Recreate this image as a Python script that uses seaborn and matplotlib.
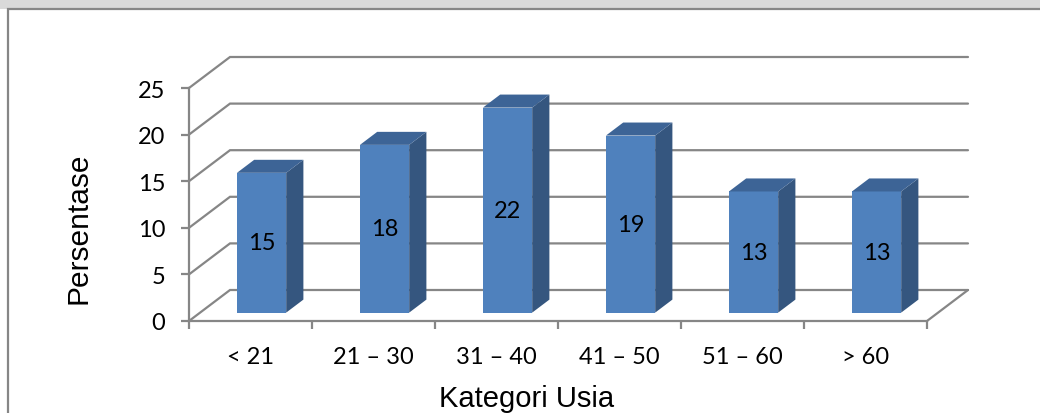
import numpy as np
import matplotlib
matplotlib.use("Agg")
import matplotlib.pyplot as plt
from matplotlib.patches import Polygon, Rectangle
import seaborn as sns

categories = ["< 21", "21 – 30", "31 – 40", "41 – 50", "51 – 60", "> 60"]
percentages = [15, 18, 22, 19, 13, 13]
y_ticks = [0, 5, 10, 15, 20, 25]

sns.set_theme(style="white")
plt.rcParams["font.family"] = ["Lato", "DejaVu Sans"]

FRONT = "#4F81BD"
SIDE = "#35567F"
TOP = "#3D6496"
GRID = "#868686"
TITLE_FONT = ["Liberation Sans", "DejaVu Sans"]

W, H = 1040, 414
fig = plt.figure(figsize=(W / 100, H / 100), dpi=100)
fig.patch.set_facecolor("white")

# front plane of the plot box, in pixels
left, right, bottom_px, top_px = 189, 927, 322, 89
ax = fig.add_axes([left / W, (H - bottom_px) / H,
                   (right - left) / W, (bottom_px - top_px) / H])
ax.patch.set_alpha(0)

n = len(categories)
sns.barplot(x=categories, y=percentages, ax=ax, color=FRONT,
            saturation=1, width=0.4, zorder=3, linewidth=0)
ax.set_xlim(-0.5, n - 0.5)
ax.set_ylim(0, y_ticks[-1])

# oblique depth of the 3-D box, converted from pixels to data units
px_x = n / (right - left)
px_y = y_ticks[-1] / (bottom_px - top_px)
DX, DY = 41 * px_x, 31 * px_y
F0, DEPTH = 0.27, 0.42   # bar front position and bar depth (fractions of the box)

# back wall gridlines and left wall diagonals
x0, x1 = -0.5, n - 0.5
for v in y_ticks:
    ax.plot([x0, x0 + DX, x1 + DX], [v, v + DY, v + DY],
            color=GRID, lw=1.6, clip_on=False, zorder=1,
            solid_joinstyle="miter")
ax.plot([x1, x1 + DX], [0, DY], color=GRID, lw=1.6, clip_on=False, zorder=1)

# turn flat bars into 3-D columns
for p, val in zip(ax.patches, percentages):
    p.set_x(p.get_x() + F0 * DX)
    p.set_y(F0 * DY)
    bx, bw, by, bh = p.get_x(), p.get_width(), p.get_y(), p.get_height()
    ddx, ddy = DEPTH * DX, DEPTH * DY
    side = Polygon([(bx + bw, by), (bx + bw + ddx, by + ddy),
                    (bx + bw + ddx, by + bh + ddy), (bx + bw, by + bh)],
                   closed=True, fc=SIDE, ec="none", zorder=3, clip_on=False)
    top = Polygon([(bx, by + bh), (bx + bw, by + bh),
                   (bx + bw + ddx, by + bh + ddy), (bx + ddx, by + bh + ddy)],
                  closed=True, fc=TOP, ec="none", zorder=3, clip_on=False)
    ax.add_patch(side)
    ax.add_patch(top)
    ax.text(bx + bw / 2, by + bh / 2, f"{val}", ha="center", va="center",
            fontsize=17, color="black", zorder=5)

# axes styling
for s in ["top", "right"]:
    ax.spines[s].set_visible(False)
for s in ["left", "bottom"]:
    ax.spines[s].set_color(GRID)
    ax.spines[s].set_linewidth(1.6)
    ax.spines[s].set_zorder(2)

ax.set_yticks(y_ticks)
ax.tick_params(axis="y", left=True, direction="out", length=6, width=1.6,
               color=GRID, pad=11, labelsize=17, labelcolor="black")
ax.set_xticks(np.arange(-0.5, n, 1), minor=True)
ax.tick_params(axis="x", which="minor", bottom=True, direction="out",
               length=6, width=1.6, color=GRID)
ax.tick_params(axis="x", which="major", bottom=False, length=0, pad=18,
               labelsize=17, labelcolor="black")

ax.set_xlabel("Kategori Usia", fontsize=21, family=TITLE_FONT, color="black")
ax.xaxis.set_label_coords(0.458, -0.365)
ax.xaxis.label.set_va("baseline")
ax.set_ylabel("Persentase", fontsize=21.5, family=TITLE_FONT, color="black")
ax.yaxis.set_label_coords(-0.150, 0.403)
ax.yaxis.label.set_va("center")

# chart frame and page band
fig.patches.append(Rectangle((0, (H - 10) / H), 1, 10 / H,
                             transform=fig.transFigure, fc="#d9d9d9",
                             ec="none", zorder=0))
fig.patches.append(Rectangle((8 / W, -0.1), 1.2, (H - 10) / H + 0.1,
                             transform=fig.transFigure, fill=False,
                             ec=GRID, lw=1.6, zorder=1))

fig.savefig("out.png", dpi=100)
